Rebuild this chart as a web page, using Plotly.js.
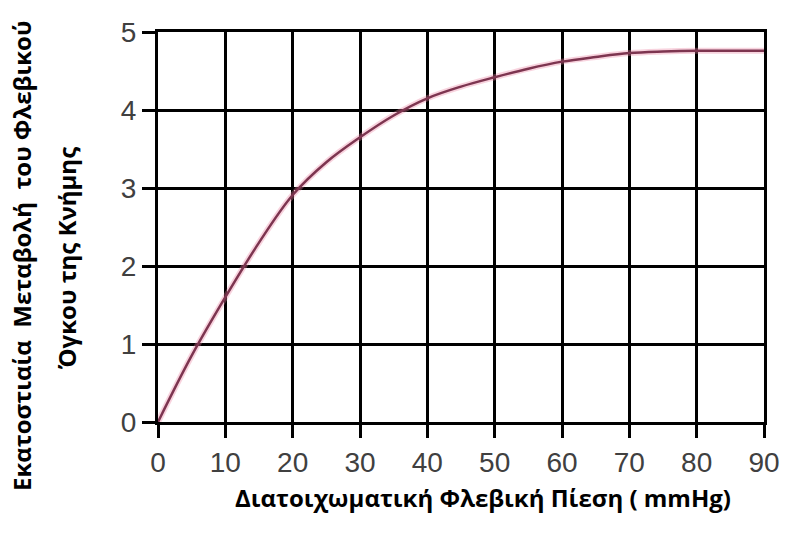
<!DOCTYPE html>
<html>
<head>
<meta charset="utf-8">
<script src="https://cdn.plot.ly/plotly-3.0.1.min.js"></script>
<style>html,body{margin:0;padding:0;background:#fff;}#chart{width:785px;height:534px;}</style>
</head>
<body>
<div id="chart"></div>
<script>
// Data
const pressure = [0, 5, 10, 15, 20, 25, 30, 35, 40, 45, 50, 55, 60, 65, 70, 75, 80, 85, 90];
const volumeChange = [0, 0.85, 1.6, 2.3, 2.91, 3.33, 3.65, 3.93, 4.15, 4.3, 4.42, 4.53, 4.62, 4.68, 4.73, 4.75, 4.76, 4.76, 4.76];
const xTicks = [0, 10, 20, 30, 40, 50, 60, 70, 80, 90];
const yTicks = [0, 1, 2, 3, 4, 5];
const yTitleLine1 = "Εκατοστιαία\u00a0 Μεταβολή\u00a0 του Φλεβικού";
const yTitleLine2 = "Όγκου της Κνήμης";
const xTitle = "Διατοιχωματική Φλεβική Πίεση ( mmHg)";

const tickFont = {family: "Liberation Sans Narrow, Arial Narrow, Liberation Sans, sans-serif", size: 28, color: "#404040"};
const titleFont = {family: "Open Sans, Noto Sans, sans-serif", size: 24, color: "#000", weight: 700};

const traces = [
  {x: pressure, y: volumeChange, type: "scatter", mode: "lines",
   line: {color: "rgba(235,130,160,0.35)", width: 6, shape: "spline"}, hoverinfo: "skip"},
  {x: pressure, y: volumeChange, type: "scatter", mode: "lines",
   line: {color: "#7d3550", width: 2.5, shape: "spline"}}
];

const axisCommon = {
  showgrid: true, gridcolor: "#000", gridwidth: 3,
  showline: true, linecolor: "#000", linewidth: 3, mirror: true,
  zeroline: false, ticks: "outside", ticklen: 13, tickwidth: 3, tickcolor: "#000",
  tickfont: tickFont, fixedrange: true
};

const layout = {
  width: 785, height: 534,
  margin: {l: 158, r: 21, t: 32, b: 112},
  paper_bgcolor: "#fff", plot_bgcolor: "#fff",
  showlegend: false,
  xaxis: Object.assign({}, axisCommon, {range: [0, 90], tickvals: xTicks, ticktext: xTicks.map(String)}),
  yaxis: Object.assign({}, axisCommon, {range: [0, 5], tickvals: yTicks, ticktext: yTicks.map(String)}),
  annotations: [
    {text: yTitleLine1, xref: "paper", yref: "paper", x: (22 - 158) / 606, y: (422 - 256) / 390,
     xanchor: "center", yanchor: "middle", textangle: -90, showarrow: false, font: titleFont},
    {text: yTitleLine2, xref: "paper", yref: "paper", x: (66 - 158) / 606, y: (422 - 258) / 390,
     xanchor: "center", yanchor: "middle", textangle: -90, showarrow: false, font: titleFont},
    {text: xTitle, xref: "paper", yref: "paper", x: (483 - 158) / 606, y: (422 - 497) / 390,
     xanchor: "center", yanchor: "middle", showarrow: false, font: titleFont}
  ]
};

Plotly.newPlot("chart", traces, layout, {displayModeBar: false, staticPlot: true});
</script>
</body>
</html>
